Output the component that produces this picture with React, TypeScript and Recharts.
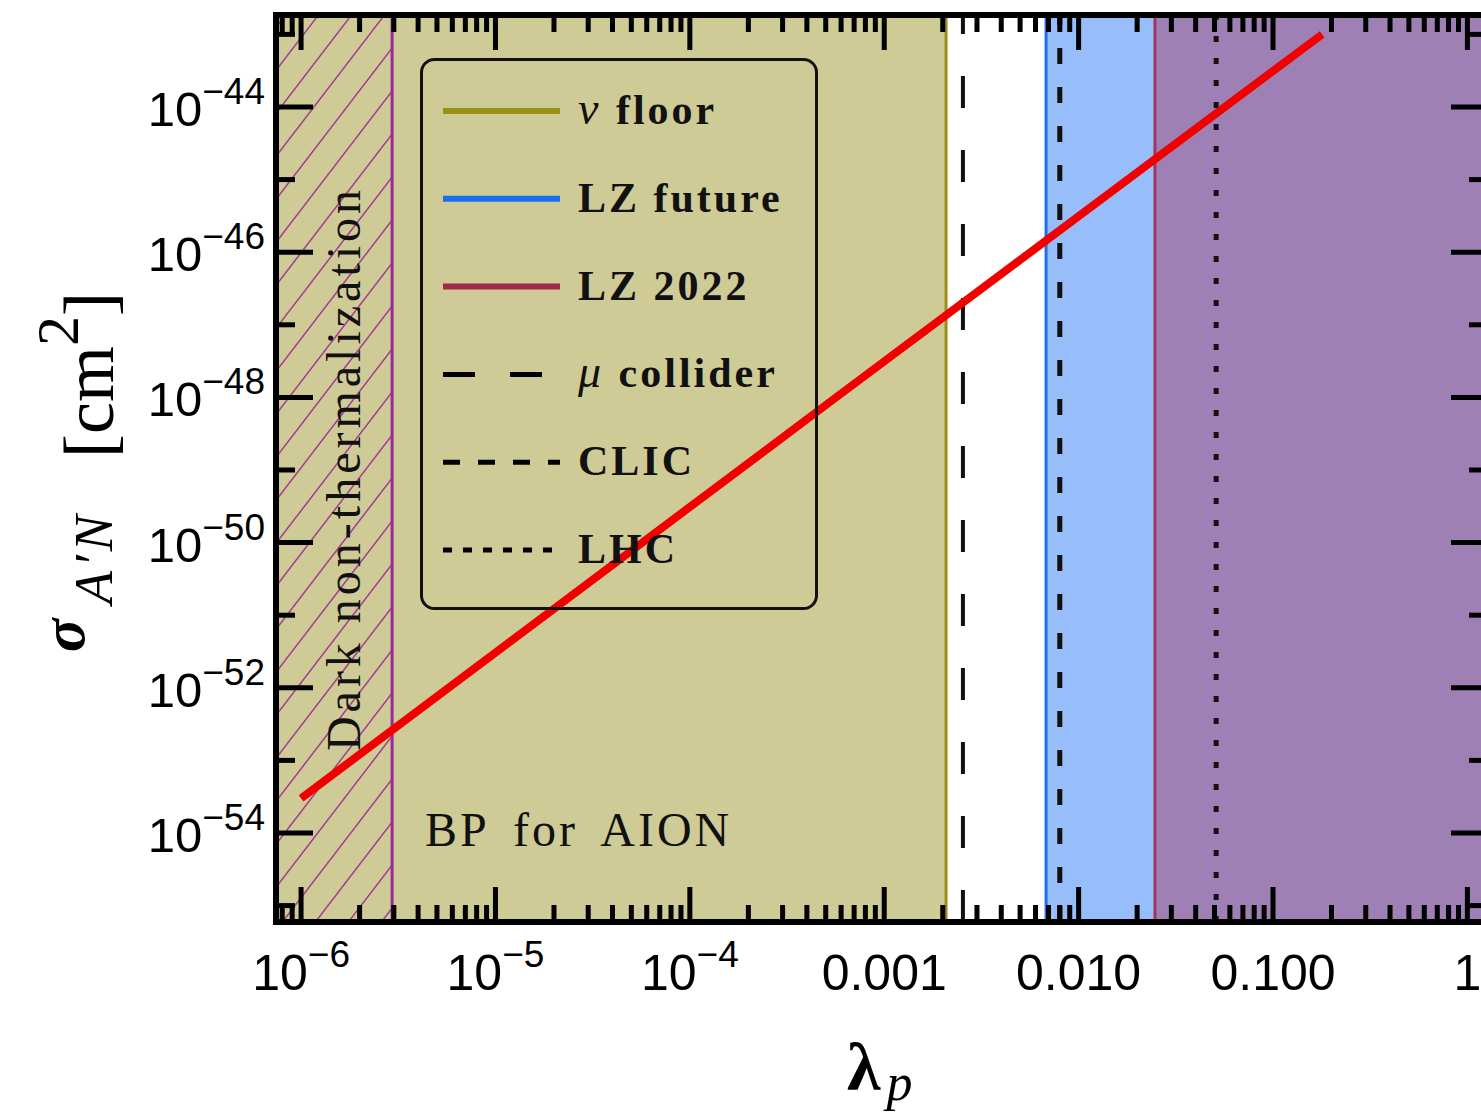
import React from 'react';
import {
  ComposedChart,
  Line,
  XAxis,
  YAxis,
  ReferenceArea,
  ReferenceLine,
  Legend,
} from 'recharts';

const SANS = "'Liberation Sans', Arial, sans-serif";
const SERIF = "'Liberation Serif', 'Times New Roman', serif";

// axis ranges (log10 of the frame edges)
const X_DOMAIN: [number, number] = [Math.pow(10, -6.129), Math.pow(10, 0.106)];
const Y_DOMAIN: [number, number] = [Math.pow(10, -55.226), Math.pow(10, -42.733)];

// red benchmark line
const lambdaP = [1.0e-6, 5.65e-4, 0.179];
const sigmaAN = [3.0e-54, 1.0e-48, 1.0e-43];

// vertical bounds in lambda_p
const darkNonThermalEdge = 2.94e-6;
const nuFloorEdge = 2.08e-3;
const muColliderReach = 2.54e-3;
const lzFutureEdge = 6.8e-3;
const clicReach = 8.0e-3;
const lz2022Edge = 2.47e-2;
const lhcReach = 5.1e-2;

// ticks
const xMajorTicks = [1e-6, 1e-5, 1e-4, 1e-3, 1e-2, 1e-1, 1];
const xTickLabels = ['10', '10', '10', '0.001', '0.010', '0.100', '1'];
const xTickExponents = ['−6', '−5', '−4', '', '', '', ''];
const yMajorTicks = [1e-54, 1e-52, 1e-50, 1e-48, 1e-46, 1e-44];
const yTickExponents = ['−54', '−52', '−50', '−48', '−46', '−44'];
const yMinorTicks = [1e-55, 1e-53, 1e-51, 1e-49, 1e-47, 1e-45, 1e-43];

// legend
const legendGreek = ['ν', '', '', 'μ', '', ''];
const legendNames = ['floor', 'LZ future', 'LZ 2022', 'collider', 'CLIC', 'LHC'];
const legendColors = ['#9a9114', '#1a6ff0', '#9e2a48', '#000', '#000', '#000'];
const legendWidths = [6, 6, 6, 5, 5, 5];
const legendDashes = [undefined, undefined, undefined, '32 35', '17 18', '9 11'];

const chartData = lambdaP.map((l, i) => ({ lambda: l, sigma: sigmaAN[i] }));

const xMinorTicks: number[] = [];
[1e-7, 1e-6, 1e-5, 1e-4, 1e-3, 1e-2, 1e-1, 1].forEach((d) => {
  for (let k = 2; k <= 9; k++) {
    const v = k * d;
    if (v > X_DOMAIN[0] && v < X_DOMAIN[1]) xMinorTicks.push(v);
  }
});
const xTicks = [...xMajorTicks, ...xMinorTicks].sort((a, b) => a - b);
const yTicks = [...yMajorTicks, ...yMinorTicks].sort((a, b) => a - b);

const sameTick = (a: number, b: number) => Math.abs(Math.log10(a) - Math.log10(b)) < 1e-6;

const MAJOR = 35;
const MINOR = 17;
const TICK = { stroke: '#000', strokeWidth: 5 };
const FRAME = { stroke: '#000', strokeWidth: 6, strokeLinecap: 'square' as const };

function XTick({ x, y, payload, side }: any) {
  const i = xMajorTicks.findIndex((t) => sameTick(t, payload.value));
  const len = i >= 0 ? MAJOR : MINOR;
  const dir = side === 'top' ? 1 : -1;
  return (
    <g>
      <line x1={x} y1={y} x2={x} y2={y + dir * len} {...TICK} />
      {side === 'bottom' && i >= 0 && (
        <text x={x} y={y + 68} textAnchor="middle" fontFamily={SANS} fontSize={50} fill="#000">
          {xTickLabels[i]}
          {xTickExponents[i] && (
            <tspan dy={-23} fontSize={37}>
              {xTickExponents[i]}
            </tspan>
          )}
        </text>
      )}
    </g>
  );
}

function YTick({ x, y, payload, side }: any) {
  const i = yMajorTicks.findIndex((t) => sameTick(t, payload.value));
  const len = i >= 0 ? MAJOR + 2 : MINOR + 2;
  const dir = side === 'left' ? 1 : -1;
  return (
    <g>
      <line x1={x} y1={y} x2={x + dir * len} y2={y} {...TICK} />
      {side === 'left' && i >= 0 && (
        <text x={x - 11} y={y + 19} textAnchor="end" fontFamily={SANS} fontSize={49} fill="#000">
          10
          <tspan dy={-22} fontSize={37}>
            {yTickExponents[i]}
          </tspan>
        </text>
      )}
    </g>
  );
}

function HatchShape(props: any) {
  const { x, y, width, height } = props;
  return (
    <g>
      <defs>
        <pattern id="darkHatch" patternUnits="userSpaceOnUse" width={33} height={43}>
          <path
            d="M0,43 L33,0 M-3,3.9 L3,-3.9 M30,46.9 L36,39.1"
            stroke="#a4408f"
            strokeWidth={1.6}
            fill="none"
          />
        </pattern>
      </defs>
      <rect x={x} y={y} width={width} height={height} fill="#cfcb97" />
      <rect x={x} y={y} width={width} height={height} fill="url(#darkHatch)" />
    </g>
  );
}

const darkLabel = ({ viewBox }: any) => {
  const cx = viewBox.x + viewBox.width - 32;
  const cy = viewBox.y + viewBox.height / 2;
  return (
    <text
      x={cx}
      y={cy}
      transform={`rotate(-90 ${cx} ${cy})`}
      textAnchor="middle"
      fontFamily={SERIF}
      fontSize={48}
      letterSpacing={4}
      fill="#111"
    >
      Dark non-thermalization
    </text>
  );
};

const aionLabel = ({ viewBox }: any) => (
  <text
    x={viewBox.x + 149}
    y={viewBox.y + viewBox.height - 76}
    fontFamily={SERIF}
    fontSize={48}
    letterSpacing={3}
    wordSpacing={10}
    fill="#111"
  >
    BP for AION
  </text>
);

const yTitle = () => (
  <g transform="rotate(-90)" fill="#000">
    <text x={-652} y={84} fontFamily={SERIF} fontWeight="bold" fontStyle="italic" fontSize={62}>
      σ
    </text>
    <text x={-604} y={112} fontFamily={SERIF} fontStyle="italic" fontSize={54} letterSpacing={4}>
      A′N
    </text>
    <text x={-458} y={113} fontFamily={SERIF} fontSize={72}>
      [cm
      <tspan dy={-35} fontSize={60}>
        2
      </tspan>
      <tspan dy={35}>]</tspan>
    </text>
  </g>
);

const xTitle = () => (
  <text y={1090} fontFamily={SERIF} fill="#000">
    <tspan x={847} fontWeight="bold" fontSize={68}>
      λ
    </tspan>
    <tspan dx={6} dy={10} fontStyle="italic" fontSize={52}>
      p
    </tspan>
  </text>
);

function LegendBox() {
  return (
    <svg width={400} height={555} style={{ display: 'block', overflow: 'visible' }}>
      <rect x={1.5} y={1.5} width={395} height={549} rx={13} fill="none" stroke="#111" strokeWidth={3} />
      {legendNames.map((name, i) => {
        const ly = 53 + i * 87.8;
        return (
          <g key={name}>
            <line
              x1={23}
              x2={140}
              y1={ly}
              y2={ly}
              stroke={legendColors[i]}
              strokeWidth={legendWidths[i]}
              strokeDasharray={legendDashes[i]}
            />
            <text
              x={158}
              y={ly + 13}
              fontFamily={SERIF}
              fontWeight="bold"
              fontSize={42}
              letterSpacing={3}
              fill="#111"
            >
              {legendGreek[i] && (
                <tspan fontStyle="italic" fontWeight="normal" fontSize={46}>
                  {legendGreek[i] + ' '}
                </tspan>
              )}
              {name}
            </text>
          </g>
        );
      })}
    </svg>
  );
}

export default function App() {
  return (
    <div
      style={{
        position: 'fixed',
        left: 0,
        top: 0,
        width: 1481,
        height: 1115,
        overflow: 'hidden',
        background: '#fff',
      }}
    >
      <ComposedChart
        width={1500}
        height={1115}
        data={chartData}
        margin={{ top: 13, right: 2, bottom: 93, left: 176 }}
      >
        <ReferenceArea
          xAxisId="bottom"
          yAxisId="left"
          x1={X_DOMAIN[0]}
          x2={nuFloorEdge}
          fill="#cfcb97"
          fillOpacity={1}
          stroke="none"
          label={aionLabel}
        />
        <ReferenceArea
          xAxisId="bottom"
          yAxisId="left"
          x1={X_DOMAIN[0]}
          x2={darkNonThermalEdge}
          shape={HatchShape}
          stroke="none"
          label={darkLabel}
        />
        <ReferenceArea
          xAxisId="bottom"
          yAxisId="left"
          x1={lzFutureEdge}
          x2={lz2022Edge}
          fill="#97befa"
          fillOpacity={1}
          stroke="none"
        />
        <ReferenceArea
          xAxisId="bottom"
          yAxisId="left"
          x1={lz2022Edge}
          x2={X_DOMAIN[1]}
          fill="#9e80b5"
          fillOpacity={1}
          stroke="none"
        />
        <ReferenceLine xAxisId="bottom" yAxisId="left" x={darkNonThermalEdge} stroke="#9a2a9a" strokeWidth={3} />
        <ReferenceLine xAxisId="bottom" yAxisId="left" x={nuFloorEdge} stroke="#9a8f12" strokeWidth={3} />
        <ReferenceLine xAxisId="bottom" yAxisId="left" x={lzFutureEdge} stroke="#1e6ff0" strokeWidth={3} />
        <ReferenceLine xAxisId="bottom" yAxisId="left" x={lz2022Edge} stroke="#a3345a" strokeWidth={3} />
        <ReferenceLine
          xAxisId="bottom"
          yAxisId="left"
          x={muColliderReach}
          stroke="#111"
          strokeWidth={4}
          strokeDasharray="32 42"
        />
        <ReferenceLine
          xAxisId="bottom"
          yAxisId="left"
          x={clicReach}
          stroke="#111"
          strokeWidth={5}
          strokeDasharray="16 23"
        />
        <ReferenceLine
          xAxisId="bottom"
          yAxisId="left"
          x={lhcReach}
          stroke="#111"
          strokeWidth={5}
          strokeDasharray="6 16"
        />

        <XAxis
          xAxisId="bottom"
          dataKey="lambda"
          type="number"
          scale="log"
          domain={X_DOMAIN}
          allowDataOverflow
          ticks={xTicks}
          interval={0}
          height={100}
          tickSize={0}
          tickMargin={0}
          tickLine={false}
          axisLine={FRAME}
          tick={(p: any) => <XTick {...p} side="bottom" />}
          label={xTitle}
        />
        <XAxis
          xAxisId="top"
          orientation="top"
          dataKey="lambda"
          type="number"
          scale="log"
          domain={X_DOMAIN}
          allowDataOverflow
          ticks={xTicks}
          interval={0}
          height={2}
          tickSize={0}
          tickMargin={0}
          tickLine={false}
          axisLine={FRAME}
          tick={(p: any) => <XTick {...p} side="top" />}
        />
        <YAxis
          yAxisId="left"
          type="number"
          scale="log"
          domain={Y_DOMAIN}
          allowDataOverflow
          ticks={yTicks}
          interval={0}
          width={100}
          tickSize={0}
          tickMargin={0}
          tickLine={false}
          axisLine={FRAME}
          tick={(p: any) => <YTick {...p} side="left" />}
          label={yTitle}
        />
        <YAxis
          yAxisId="right"
          orientation="right"
          type="number"
          scale="log"
          domain={Y_DOMAIN}
          allowDataOverflow
          ticks={yTicks}
          interval={0}
          width={10}
          tickSize={0}
          tickMargin={0}
          tickLine={false}
          axisLine={FRAME}
          tick={(p: any) => <YTick {...p} side="right" />}
        />

        <Line
          xAxisId="bottom"
          yAxisId="left"
          dataKey="sigma"
          stroke="#f20000"
          strokeWidth={8}
          dot={false}
          activeDot={false}
          isAnimationActive={false}
        />
        <Legend
          layout="vertical"
          align="center"
          verticalAlign="middle"
          wrapperStyle={{ left: 420, top: 58, width: 400, height: 555 }}
          content={() => <LegendBox />}
        />
      </ComposedChart>
    </div>
  );
}
